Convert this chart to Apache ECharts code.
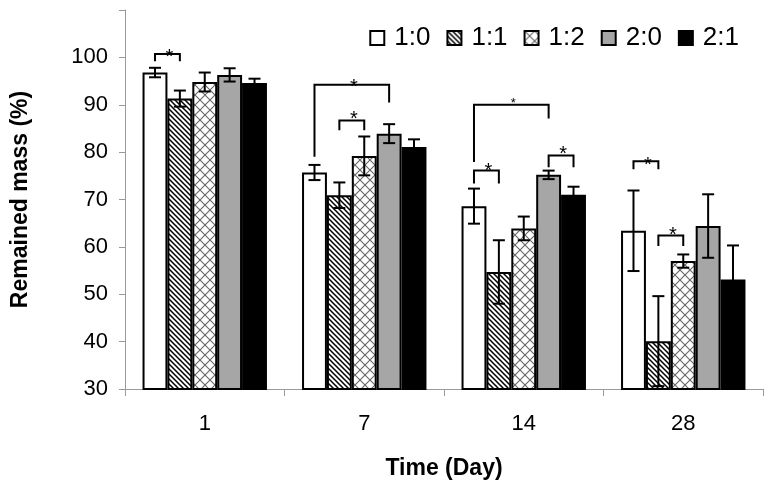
<!DOCTYPE html>
<html>
<head>
<meta charset="utf-8">
<script src="https://cdn.jsdelivr.net/npm/echarts@6/dist/echarts.min.js"></script>
<style>html,body{margin:0;padding:0;background:#fff}#c{width:774px;height:494px}</style>
</head>
<body>
<div id="c"></div>
<script>
// ---- data ----
const categories = ['1', '7', '14', '28'];
const seriesNames = ['1:0', '1:1', '1:2', '2:0', '2:1'];
const mean10 = [96.8, 75.7, 68.6, 63.4];
const mean11 = [91.3, 70.9, 54.7, 40.1];
const mean12 = [94.8, 79.2, 63.9, 57.0];
const mean20 = [96.3, 83.9, 75.2, 64.4];
const mean21 = [94.6, 81.1, 71.0, 53.1];
const err10 = [1.0, 1.6, 3.7, 8.5];
const err11 = [1.7, 2.7, 6.7, 9.5];
const err12 = [2.0, 4.1, 2.5, 1.4];
const err20 = [1.4, 2.0, 0.9, 6.7];
const err21 = [0.9, 1.6, 1.7, 7.2];
const yTicks = [30, 40, 50, 60, 70, 80, 90, 100];
// significance brackets (category index, from series, to series, values)
const bracketGroup = [0, 1, 1, 2, 2, 2, 3, 3];
const bracketFrom = [0, 0, 1, 0, 0, 3, 0, 1];
const bracketTo = [1, 3, 2, 3, 1, 4, 1, 2];
const bracketTop = [100.7, 94.2, 86.7, 90.0, 76.1, 79.3, 78.1, 62.4];
const bracketLeftEnd = [99.2, 79.0, 84.6, 77.9, 73.4, 76.8, 76.4, 60.2];
const bracketRightEnd = [99.2, 90.5, 84.6, 87.1, 73.4, 76.8, 76.4, 60.2];
const bracketStarY = [101.3, 95.0, 88.1, 91.1, 77.2, 80.7, 78.4, 63.7];

const means = [mean10, mean11, mean12, mean20, mean21];
const errs = [err10, err11, err12, err20, err21];

// ---- styles ----
const FONT = "'Liberation Sans', Arial, sans-serif";
const GAP = 0.22;
const starSizes = [20, 20, 20, 13, 20, 20, 20, 20];

function hatchPattern() {
  const s = 5, c = document.createElement('canvas');
  c.width = s; c.height = s;
  const g = c.getContext('2d');
  g.fillStyle = '#fff'; g.fillRect(0, 0, s, s);
  g.strokeStyle = '#000'; g.lineWidth = 1.5;
  g.beginPath();
  g.moveTo(-1, -1); g.lineTo(s + 1, s + 1);
  g.moveTo(-1, s - 1); g.lineTo(1, s + 1);
  g.moveTo(s - 1, -1); g.lineTo(s + 1, 1);
  g.stroke();
  return c;
}
function crossPattern() {
  const s = 10, c = document.createElement('canvas');
  c.width = s; c.height = s;
  const g = c.getContext('2d');
  g.fillStyle = '#fff'; g.fillRect(0, 0, s, s);
  g.strokeStyle = '#666'; g.lineWidth = 1.1;
  g.beginPath();
  g.moveTo(0, 0); g.lineTo(s, s);
  g.moveTo(s, 0); g.lineTo(0, s);
  g.stroke();
  return c;
}
const fills = [
  '#ffffff',
  { image: hatchPattern(), repeat: 'repeat' },
  { image: crossPattern(), repeat: 'repeat' },
  '#a6a6a6',
  '#000000'
];

function barCenter(api, cat, si) {
  const band = api.size([1, 0])[0];
  const total = band * (1 - GAP);
  const w = total / seriesNames.length;
  const cx = api.coord([cat, 0])[0];
  return { x: cx - total / 2 + w * (si + 0.5), w: w };
}

const barSeries = seriesNames.map((n, i) => ({
  name: n,
  type: 'bar',
  data: means[i],
  barGap: '0%',
  barCategoryGap: (GAP * 100) + '%',
  itemStyle: { color: fills[i], borderColor: '#000', borderWidth: 2 },
  z: 2
}));

const errData = [];
seriesNames.forEach((n, si) => {
  categories.forEach((c, ci) => {
    errData.push([ci, si, means[si][ci], errs[si][ci]]);
  });
});

const bracketData = bracketGroup.map((g, i) => [g, bracketFrom[i], bracketTo[i], bracketTop[i], bracketLeftEnd[i], bracketRightEnd[i], bracketStarY[i], i]);

const option = {
  animation: false,
  backgroundColor: '#fff',
  textStyle: { fontFamily: FONT },
  grid: { left: 125, right: 11, top: 10, bottom: 105 },
  legend: {
    data: seriesNames,
    right: 30,
    top: 20,
    itemWidth: 14,
    itemHeight: 14,
    itemGap: 16,
    icon: 'rect',
    textStyle: { fontSize: 26, color: '#000', fontFamily: FONT, padding: [0, 0, 0, 5] }
  },
  xAxis: {
    type: 'category',
    data: categories,
    name: 'Time (Day)',
    nameLocation: 'middle',
    nameGap: 68,
    nameTextStyle: { fontSize: 23, fontWeight: 'bold', color: '#000', fontFamily: FONT },
    axisLine: { lineStyle: { color: '#9a9a9a', width: 1 } },
    axisTick: { show: true, alignWithLabel: false, length: 7, lineStyle: { color: '#9a9a9a' } },
    axisLabel: { fontSize: 22, color: '#000', margin: 24, fontFamily: FONT }
  },
  yAxis: {
    type: 'value',
    min: 30,
    max: 110,
    interval: 10,
    name: 'Remained mass (%)',
    nameLocation: 'middle',
    nameGap: 93,
    nameTextStyle: { fontSize: 23, fontWeight: 'bold', color: '#000', fontFamily: FONT },
    axisLine: { show: true, lineStyle: { color: '#9a9a9a', width: 1 } },
    axisTick: { show: true, length: 6, lineStyle: { color: '#9a9a9a' } },
    splitLine: { show: false },
    axisLabel: {
      fontSize: 22, color: '#000', margin: 17, fontFamily: FONT,
      formatter: v => yTicks.indexOf(v) >= 0 ? String(v) : ''
    }
  },
  series: barSeries.concat([
    {
      type: 'custom',
      name: 'err',
      z: 5,
      data: errData,
      encode: { x: 0, y: 2 },
      renderItem: function (params, api) {
        const ci = api.value(0), si = api.value(1), m = api.value(2), e = api.value(3);
        const bc = barCenter(api, ci, si);
        const yt = api.coord([ci, m + e])[1];
        const yb = api.coord([ci, m - e])[1];
        const cap = 6;
        const st = { stroke: '#000', lineWidth: 2, fill: null };
        return {
          type: 'group',
          children: [
            { type: 'line', shape: { x1: bc.x, y1: yt, x2: bc.x, y2: yb }, style: st },
            { type: 'line', shape: { x1: bc.x - cap, y1: yt, x2: bc.x + cap, y2: yt }, style: st },
            { type: 'line', shape: { x1: bc.x - cap, y1: yb, x2: bc.x + cap, y2: yb }, style: st }
          ]
        };
      }
    },
    {
      type: 'custom',
      name: 'sig',
      z: 6,
      data: bracketData,
      encode: { x: 0, y: 3 },
      renderItem: function (params, api) {
        const ci = api.value(0), a = api.value(1), b = api.value(2);
        const top = api.coord([ci, api.value(3)])[1];
        const le = api.coord([ci, api.value(4)])[1];
        const re = api.coord([ci, api.value(5)])[1];
        const sy = api.coord([ci, api.value(6)])[1];
        const idx = api.value(7);
        const xa = barCenter(api, ci, a).x, xb = barCenter(api, ci, b).x;
        const fs = starSizes[idx];
        return {
          type: 'group',
          children: [
            { type: 'polyline', shape: { points: [[xa, le], [xa, top], [xb, top], [xb, re]] }, style: { stroke: '#000', lineWidth: 2, fill: null } },
            { type: 'text', style: { x: (xa + xb) / 2 + 2, y: sy + fs * 0.3, text: '*', fontSize: fs, fontFamily: FONT, fill: '#000', align: 'center', verticalAlign: 'middle' } }
          ]
        };
      }
    }
  ])
};

const chart = echarts.init(document.getElementById('c'), null, { renderer: 'canvas' });
chart.setOption(option);
</script>
</body>
</html>
